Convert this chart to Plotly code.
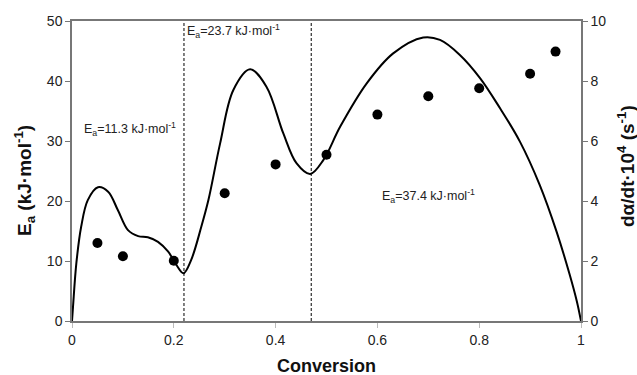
import plotly.graph_objects as go

# Activation energy data points (left axis)
conv_pts = [0.05, 0.10, 0.20, 0.30, 0.40, 0.50, 0.60, 0.70, 0.80, 0.90, 0.95]
ea_vals = [13.0, 10.8, 10.05, 21.3, 26.1, 27.7, 34.4, 37.45, 38.8, 41.2, 44.9]

# Reaction rate curve (right axis)
conv_curve = [0, 0.002, 0.0085, 0.018, 0.031, 0.051, 0.071, 0.090, 0.110, 0.130,
              0.149, 0.169, 0.189, 0.205, 0.219, 0.234, 0.254, 0.268, 0.291, 0.317,
              0.350, 0.382, 0.415, 0.441, 0.468, 0.494, 0.527, 0.579, 0.631, 0.690,
              0.723, 0.762, 0.802, 0.841, 0.880, 0.919, 0.952, 0.978, 0.992, 1.0]
rate_curve = [0, 0.48, 1.92, 3.14, 4.03, 4.46, 4.31, 3.70, 3.03, 2.83,
              2.79, 2.64, 2.31, 1.87, 1.59, 2.03, 3.14, 4.03, 5.92, 7.70,
              8.39, 7.81, 6.26, 5.26, 4.90, 5.37, 6.48, 7.92, 8.92, 9.45,
              9.37, 8.87, 8.09, 7.09, 5.98, 4.53, 2.98, 1.53, 0.64, 0]

boundaries = [0.22, 0.47]
region_labels = ["E<sub>a</sub>=11.3 kJ·mol<sup>-1</sup>",
                 "E<sub>a</sub>=23.7 kJ·mol<sup>-1</sup>",
                 "E<sub>a</sub>=37.4 kJ·mol<sup>-1</sup>"]
label_x = [0.02, 0.222, 0.605]
label_y = [32.0, 48.4, 20.9]

FONT = "Arial, Liberation Sans, sans-serif"
AX = "#777777"

fig = go.Figure()
fig.add_trace(go.Scatter(x=conv_curve, y=rate_curve, mode="lines", yaxis="y2",
                         line=dict(color="black", width=2, shape="spline", smoothing=1.0),
                         showlegend=False, hoverinfo="skip"))
fig.add_trace(go.Scatter(x=conv_pts, y=ea_vals, mode="markers",
                         marker=dict(color="black", size=10), showlegend=False))

for b in boundaries:
    fig.add_shape(type="line", x0=b, x1=b, y0=0, y1=50, xref="x", yref="y",
                  line=dict(color="black", width=1, dash="3px,2px"))

for t, xx, yy in zip(region_labels, label_x, label_y):
    fig.add_annotation(x=xx, y=yy, xref="x", yref="y", text=t, showarrow=False,
                       xanchor="left", yanchor="middle",
                       font=dict(family=FONT, size=12.5, color="#222"))

# axis titles
fig.add_annotation(x=0, y=0.5, xref="paper", yref="paper", xshift=-48, yshift=-10,
                   text="<b>E<sub>a</sub> (kJ·mol<sup>-1</sup>)</b>", textangle=-90,
                   showarrow=False, xanchor="center", yanchor="middle",
                   font=dict(family=FONT, size=19, color="#111"))
fig.add_annotation(x=1, y=0.5, xref="paper", yref="paper", xshift=45, yshift=5,
                   text="<b>dα/dt·10<sup>4</sup> (s<sup>-1</sup>)</b>", textangle=-90,
                   showarrow=False, xanchor="center", yanchor="middle",
                   font=dict(family=FONT, size=19, color="#111"))
fig.add_annotation(x=0.5, y=0, xref="paper", yref="paper", yshift=-45,
                   text="<b>Conversion</b>", showarrow=False,
                   xanchor="center", yanchor="middle",
                   font=dict(family=FONT, size=18, color="#111"))

fig.update_layout(
    width=637, height=375,
    margin=dict(l=72, r=56, t=21, b=54),
    plot_bgcolor="white", paper_bgcolor="white",
    font=dict(family=FONT, size=14, color="#222"),
    xaxis=dict(range=[0, 1], tickvals=[0, 0.2, 0.4, 0.6, 0.8, 1],
               ticktext=["0", "0.2", "0.4", "0.6", "0.8", "1"],
               showgrid=False, zeroline=False, showline=True, linecolor=AX, linewidth=1.5,
               mirror=True, ticks="outside", ticklen=5, tickcolor="#bbbbbb",
               tickfont=dict(size=14)),
    yaxis=dict(range=[0, 50], tickvals=[0, 10, 20, 30, 40, 50],
               showgrid=False, zeroline=False, showline=True, linecolor=AX, linewidth=1.5,
               ticks="outside", ticklen=5, tickcolor=AX, tickfont=dict(size=14)),
    yaxis2=dict(range=[0, 10], tickvals=[0, 2, 4, 6, 8, 10], overlaying="y", side="right",
                showgrid=False, zeroline=False, showline=True, linecolor=AX, linewidth=1.5,
                ticks="outside", ticklen=5, tickcolor=AX, tickfont=dict(size=14)),
)

# remove the page's default body margin so the figure fills the window exactly
fig.write_html("out.html",
               config={"displayModeBar": False},
               post_script="document.body.style.margin='0';document.body.style.overflow='hidden';")
